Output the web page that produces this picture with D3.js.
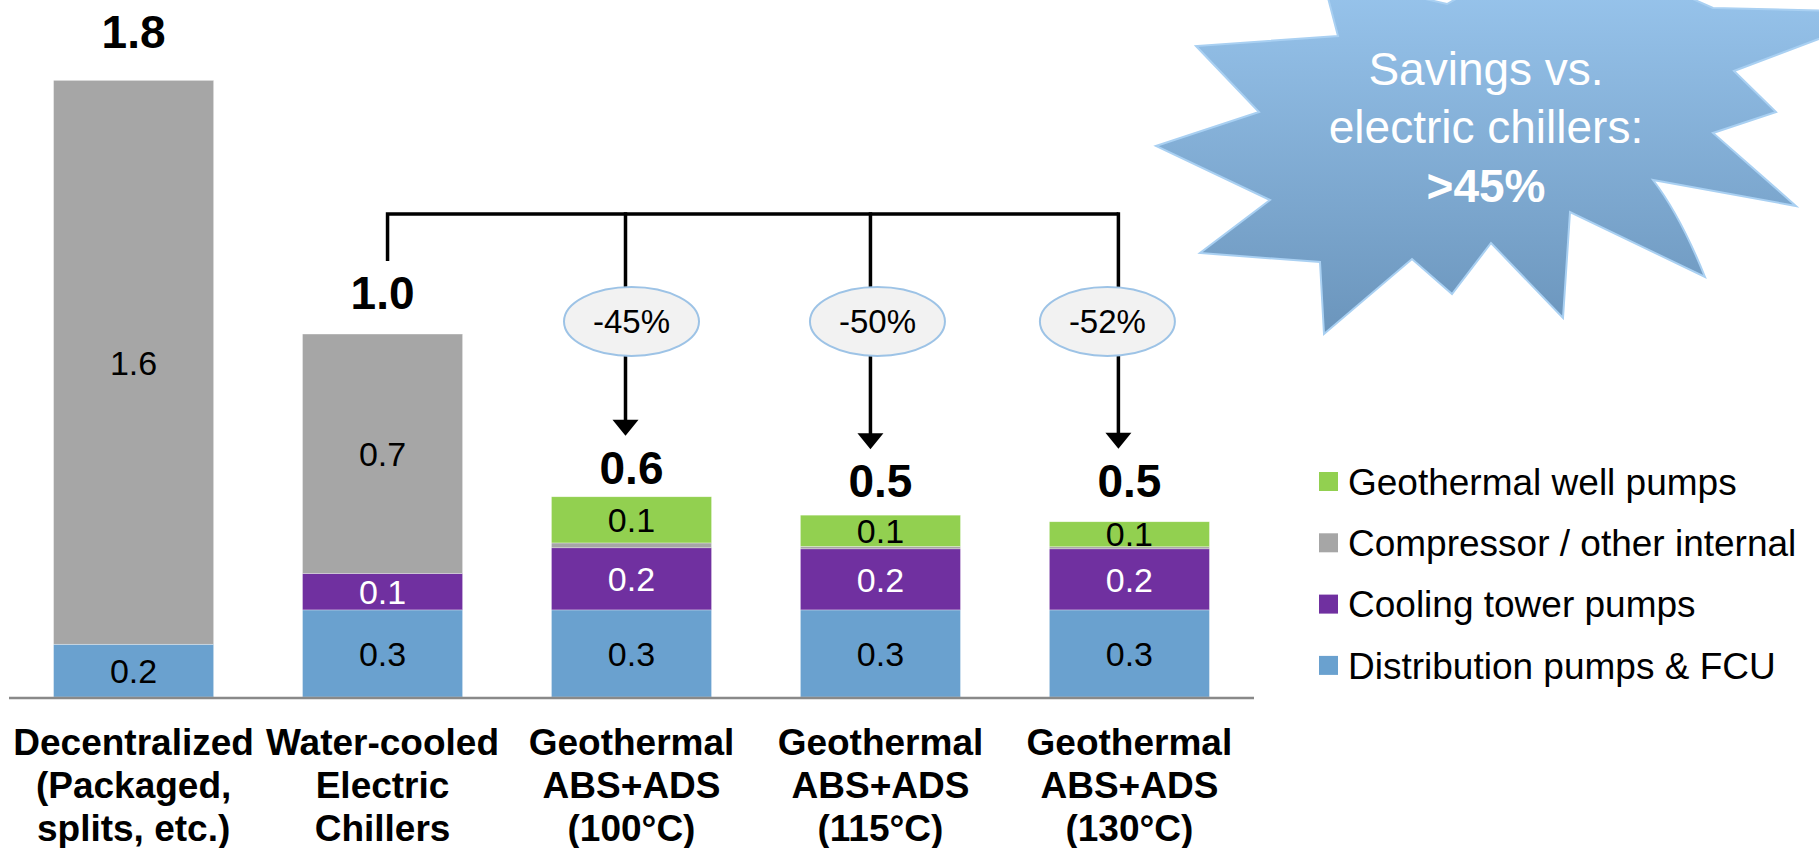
<!DOCTYPE html>
<html>
<head>
<meta charset="utf-8">
<script src="https://cdn.jsdelivr.net/npm/d3@7"></script>
<style>
  html, body { margin: 0; padding: 0; background: #fff; }
  svg { display: block; font-family: "Liberation Sans", Arial, Helvetica, sans-serif; }
</style>
</head>
<body>
<svg id="chart" width="1819" height="848"></svg>
<script>
// ---- Data -------------------------------------------------------------
const categories = [
  "Decentralized\n(Packaged,\nsplits, etc.)",
  "Water-cooled\nElectric\nChillers",
  "Geothermal\nABS+ADS\n(100°C)",
  "Geothermal\nABS+ADS\n(115°C)",
  "Geothermal\nABS+ADS\n(130°C)"
];
const seriesNames = [
  "Distribution pumps & FCU",
  "Cooling tower pumps",
  "Compressor / other internal",
  "Geothermal well pumps"
];
const distributionPumps = [0.152, 0.251, 0.251, 0.251, 0.251];
const coolingTowerPumps = [0.000, 0.105, 0.179, 0.176, 0.176];
const compressorOther   = [1.625, 0.690, 0.014, 0.007, 0.006];
const wellPumps         = [0.000, 0.000, 0.133, 0.090, 0.072];
// savings of each geothermal option against water-cooled electric chillers (%)
const savingsPct = [-45, -50, -52];
const savingsBase = 1;            // index of the reference bar
const savingsTargets = [2, 3, 4]; // bars the arrows point to

// ---- Layout ----------------------------------------------------------
const W = 1819, H = 848;
const baseY = 697;
const colors = ["#6aa1cf", "#7030a0", "#a6a6a6", "#92d050"];
const labelColors = ["#000", "#fff", "#000", "#000"];
const totalGap = [32, 25, 13, 18, 25];      // space between bar top and its total
const arrowDx = [-6, -10, -11];             // connector offset from bar centre
const ellipseDx = [0, -3, -22];             // callout offset from bar centre

const svg = d3.select("#chart");

const x = d3.scaleBand()
  .domain(categories)
  .range([9, 1254])
  .paddingInner(0.357)
  .paddingOuter(0.179);

const y = d3.scaleLinear()
  .domain([0, 2])
  .range([baseY, baseY - 694]);

const rows = categories.map((c, i) => ({
  cat: c,
  [seriesNames[0]]: distributionPumps[i],
  [seriesNames[1]]: coolingTowerPumps[i],
  [seriesNames[2]]: compressorOther[i],
  [seriesNames[3]]: wellPumps[i]
}));
const stacked = d3.stack().keys(seriesNames)(rows);
const totals = rows.map(r => d3.sum(seriesNames, k => r[k]));
const fmt = d3.format(".1f");

// ---- Stacked bars ------------------------------------------------------
const layers = svg.append("g").selectAll("g")
  .data(stacked)
  .join("g")
  .attr("fill", (d, i) => colors[i]);

layers.selectAll("rect")
  .data(d => d.map(s => ({ s, cat: s.data.cat })))
  .join("rect")
  .attr("x", d => x(d.cat))
  .attr("width", x.bandwidth())
  .attr("y", d => y(d.s[1]))
  .attr("height", d => Math.max(0, y(d.s[0]) - y(d.s[1])))
  .attr("stroke", "#ffffff")
  .attr("stroke-opacity", 0.5)
  .attr("stroke-width", 0.6);

// segment value labels
stacked.forEach((layer, li) => {
  svg.append("g").selectAll("text")
    .data(layer.filter(s => (s[1] - s[0]) >= 0.05))
    .join("text")
    .attr("x", s => x(s.data.cat) + x.bandwidth() / 2)
    .attr("y", s => (y(s[0]) + y(s[1])) / 2)
    .attr("dy", "0.36em")
    .attr("text-anchor", "middle")
    .attr("font-size", 34)
    .attr("fill", labelColors[li])
    .text(s => fmt(s[1] - s[0]));
});

// baseline
svg.append("line")
  .attr("x1", x.range()[0]).attr("x2", x.range()[1])
  .attr("y1", baseY + 1).attr("y2", baseY + 1)
  .attr("stroke", "#898989").attr("stroke-width", 2.5);

// totals above bars
const totalBase = totals.map((t, i) => y(t) - totalGap[i]);
svg.append("g").selectAll("text")
  .data(categories)
  .join("text")
  .attr("x", c => x(c) + x.bandwidth() / 2)
  .attr("y", (c, i) => totalBase[i])
  .attr("text-anchor", "middle")
  .attr("font-size", 46)
  .attr("font-weight", "bold")
  .text((c, i) => fmt(totals[i]));

// category labels
const catG = svg.append("g").selectAll("text")
  .data(categories)
  .join("text")
  .attr("x", c => x(c) + x.bandwidth() / 2)
  .attr("y", 755)
  .attr("text-anchor", "middle")
  .attr("font-size", 37)
  .attr("font-weight", "bold");
catG.selectAll("tspan")
  .data(c => c.split("\n").map(line => ({ line, cx: x(c) + x.bandwidth() / 2 })))
  .join("tspan")
  .attr("x", d => d.cx)
  .attr("dy", (d, i) => i === 0 ? 0 : 43)
  .text(d => d.line);

// ---- Savings bracket and arrows ---------------------------------------
const bracketY = 214;
const ellY = 321.5, ellRx = 67.5, ellRy = 34.5;
const conn = svg.append("g").attr("stroke", "#000").attr("stroke-width", 3.5).attr("fill", "none");
const baseCx = x(categories[savingsBase]) + x.bandwidth() / 2 + 5;
const arrowX = savingsTargets.map((t, i) => x(categories[t]) + x.bandwidth() / 2 + arrowDx[i]);

conn.append("path")
  .attr("d", `M${baseCx},${totalBase[savingsBase] - 48} V${bracketY} H${d3.max(arrowX)}`);

const tipY = savingsTargets.map(t => totalBase[t] - 48);
savingsTargets.forEach((t, i) => {
  conn.append("line")
    .attr("x1", arrowX[i]).attr("x2", arrowX[i])
    .attr("y1", bracketY - 1.75).attr("y2", tipY[i] - 14);
  svg.append("path")
    .attr("d", `M${arrowX[i] - 13},${tipY[i] - 16} L${arrowX[i] + 13},${tipY[i] - 16} L${arrowX[i]},${tipY[i]} Z`)
    .attr("fill", "#000");
});

const callouts = svg.append("g").selectAll("g")
  .data(savingsPct)
  .join("g")
  .attr("transform", (d, i) => `translate(${x(categories[savingsTargets[i]]) + x.bandwidth() / 2 + ellipseDx[i]},${ellY})`);
callouts.append("ellipse")
  .attr("rx", ellRx).attr("ry", ellRy)
  .attr("fill", "#f2f2f2")
  .attr("stroke", "#9dc3e6").attr("stroke-width", 2);
callouts.append("text")
  .attr("text-anchor", "middle")
  .attr("dy", "0.36em")
  .attr("font-size", 33)
  .text(d => d + "%");

// ---- Legend ----------------------------------------------------------
const legendOrder = [3, 2, 1, 0];
const legend = svg.append("g").selectAll("g")
  .data(legendOrder)
  .join("g")
  .attr("transform", (k, i) => `translate(1319,${481.5 + i * 61.3})`);
legend.append("rect")
  .attr("x", 0).attr("y", -9.5)
  .attr("width", 19).attr("height", 19)
  .attr("fill", k => colors[k]);
legend.append("text")
  .attr("x", 29)
  .attr("dy", "0.36em")
  .attr("font-size", 37)
  .text(k => seriesNames[k]);

// ---- Savings burst ---------------------------------------------------
const defs = svg.append("defs");
const grad = defs.append("linearGradient")
  .attr("id", "burstFill")
  .attr("gradientUnits", "userSpaceOnUse")
  .attr("x1", 0).attr("y1", -60).attr("x2", 0).attr("y2", 334);
grad.append("stop").attr("offset", "0%").attr("stop-color", "#9dcaf2");
grad.append("stop").attr("offset", "100%").attr("stop-color", "#6b95bc");

const burst = [
  [1734, 71], [1776, 112], [1713, 133], [1796, 206], [1653, 180]
];
const burstRest = [
  [1570, 212], [1563, 318], [1491, 243], [1452, 294], [1412, 259],
  [1324, 334], [1320, 262], [1200, 253], [1270, 200], [1156, 146],
  [1259, 112], [1196, 46], [1338, 36], [1322, -25], [1447, 4],
  [1560, -60], [1713, 8], [1890, 12]
];
const pt = p => p.join(",");
const burstPath = "M" + burst.map(pt).join(" L") +
  ` Q1680,215 1705,277` +
  " L" + burstRest.map(pt).join(" L") + " Z";
svg.append("path")
  .attr("d", burstPath)
  .attr("fill", "url(#burstFill)")
  .attr("stroke", "#a9d0f2")
  .attr("stroke-width", 2)
  .attr("stroke-linejoin", "miter");

const burstText = svg.append("g").attr("fill", "#fff").attr("text-anchor", "middle").attr("font-size", 46);
burstText.append("text").attr("x", 1486).attr("y", 85).text("Savings vs.");
burstText.append("text").attr("x", 1486).attr("y", 143).text("electric chillers:");
burstText.append("text").attr("x", 1486).attr("y", 202).attr("font-weight", "bold").text(">45%");
</script>
</body>
</html>
